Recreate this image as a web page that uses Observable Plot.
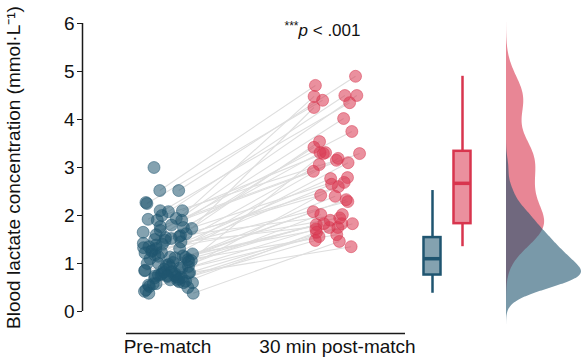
<!DOCTYPE html>
<html><head><meta charset="utf-8">
<script src="https://cdn.jsdelivr.net/npm/d3@7"></script>
<script src="https://cdn.jsdelivr.net/npm/@observablehq/plot@0.6"></script>
<style>body{margin:0;background:#fff;}</style>
</head><body><div id="chart"></div>
<script>
// ---------- data ----------
const categories = ["Pre-match", "30 min post-match"];
const preValues = [
  3.0,2.52,2.52,2.27,2.25,2.1,2.1,2.08,2.0,1.94,
  1.92,1.9,1.9,1.8,1.77,1.75,1.73,1.69,1.65,1.62,
  1.6,1.58,1.56,1.54,1.52,1.5,1.48,1.45,1.42,1.4,
  1.38,1.35,1.33,1.31,1.31,1.27,1.25,1.23,1.22,1.2,
  1.18,1.16,1.15,1.13,1.13,1.12,1.1,1.08,1.06,1.04,
  1.02,1.0,1.0,0.98,0.96,0.94,0.92,0.9,0.9,0.88,
  0.86,0.85,0.83,0.82,0.81,0.8,0.79,0.78,0.77,0.76,
  0.75,0.75,0.74,0.73,0.72,0.71,0.7,0.68,0.66,0.65,
  0.63,0.62,0.6,0.6,0.58,0.58,0.55,0.52,0.5,0.45,
  0.42,0.38,0.38
];
const postValues = [
  null,4.71,4.9,null,4.4,3.31,null,4.5,3.15,null,
  4.35,2.92,null,4.48,3.29,null,4.25,3.75,null,2.42,
  4.5,null,3.54,2.02,null,4.02,3.42,null,2.79,1.83,
  null,3.31,2.6,null,3.19,1.95,null,3.06,2.29,null,
  2.77,1.75,null,3.1,2.08,null,2.65,1.6,null,3.29,
  2.4,null,1.83,2.33,null,2.69,null,null,2.02,1.9,
  null,1.81,null,null,null,1.35,null,null,1.56,null,
  null,null,null,null,null,null,1.72,null,null,1.48,
  null,null,1.65,null,null,null,1.75,null,null,1.83,
  null,1.46,null
];
const yTicks = [0,1,2,3,4,5,6];
const yLabel = "Blood lactate concentration (mmol·L⁻¹)";
const pStars = "***";
const pItalic = "p";
const pRest = " < .001";

// ---------- layout / style ----------
const W = 584, H = 361;
const xCat = [167, 337];
const xBox = [432, 462];
const xDens = 506, densMax = 75;
const colors = ["#1f5570", "#d8354e"];
const font = "'Liberation Sans', Arial, sans-serif";

const rng = d3.randomLcg(11);
const jit = () => (rng() - 0.5) * 52;
const rows = preValues.map((v, i) => ({pre: v, post: postValues[i], xp: xCat[0] + jit(), xq: xCat[1] + jit()}));
const prePts = rows.map(r => ({x: r.xp, y: r.pre}));
const paired = rows.filter(r => r.post != null);
const postPts = paired.map(r => ({x: r.xq, y: r.post}));
const postList = paired.map(r => r.post);

function boxStats(vals, x) {
  const s = vals.slice().sort(d3.ascending);
  const q1 = d3.quantile(s, .25), med = d3.quantile(s, .5), q3 = d3.quantile(s, .75);
  const iqr = q3 - q1;
  const lo = d3.min(s.filter(v => v >= q1 - 1.5 * iqr));
  const hi = d3.max(s.filter(v => v <= q3 + 1.5 * iqr));
  return {x, q1, med, q3, lo, hi};
}
const boxes = [boxStats(preValues, xBox[0]), boxStats(postList, xBox[1])];

function kde(vals, bw) {
  return d3.range(-0.3, 6.22, 0.02).map(y => ({
    y, d: d3.mean(vals, v => Math.exp(-0.5 * ((y - v) / bw) ** 2)) / (bw * Math.sqrt(2 * Math.PI))
  }));
}
const densPre = kde(preValues, 0.2);
const densPost = kde(postList, 0.38);
const k = densMax / d3.max(densPre, d => d.d);

const marks = [
  Plot.ruleX([xCat[0]], {x: () => 82, y1: 0, y2: 6, stroke: "#1a1a1a", strokeWidth: 1.5}),
  Plot.axisY({ticks: yTicks, tickFormat: d3.format("d"), tickSize: 5, tickPadding: 3, fontSize: 19, label: yLabel,
    labelAnchor: "center", labelOffset: 76, labelArrow: "none", stroke: "#1a1a1a"}),
  Plot.ruleY([0], {x1: () => xCat[0] - 41, x2: () => xCat[1] + 68, dy: 22, stroke: "#1a1a1a", strokeWidth: 1.5}),
  Plot.axisX({ticks: xCat, tickFormat: d => categories[xCat.indexOf(d)], tickSize: 0, tickPadding: 28, fontSize: 19, label: null}),
  Plot.link(paired, {x1: "xp", y1: "pre", x2: "xq", y2: "post", stroke: "#dedede", strokeWidth: 1.1}),
  Plot.dot(prePts, {x: "x", y: "y", r: 6, fill: colors[0], fillOpacity: 0.55, stroke: colors[0], strokeOpacity: 0.5, strokeWidth: 1}),
  Plot.dot(postPts, {x: "x", y: "y", r: 6, fill: colors[1], fillOpacity: 0.55, stroke: colors[1], strokeOpacity: 0.5, strokeWidth: 1}),
  Plot.areaX(densPost, {y: "y", x1: () => xDens, x2: d => xDens + d.d * k, fill: colors[1], fillOpacity: 0.6, curve: "basis"}),
  Plot.areaX(densPre, {y: "y", x1: () => xDens, x2: d => xDens + d.d * k, fill: colors[0], fillOpacity: 0.6, curve: "basis"}),
  Plot.text([pStars + pItalic + pRest], {x: () => 322, y: () => 5.9, text: d => d, fontSize: 17, lineAnchor: "middle"})
];
boxes.forEach((b, i) => {
  const c = colors[i];
  marks.push(
    Plot.ruleX([b], {x: "x", y1: "lo", y2: "q1", stroke: c, strokeWidth: 2.5}),
    Plot.ruleX([b], {x: "x", y1: "q3", y2: "hi", stroke: c, strokeWidth: 2.5}),
    Plot.rect([b], {x1: d => d.x - 8.5, x2: d => d.x + 8.5, y1: "q1", y2: "q3", fill: c, fillOpacity: 0.55, stroke: c, strokeWidth: 2.5}),
    Plot.ruleY([b], {y: "med", x1: d => d.x - 8.5, x2: d => d.x + 8.5, stroke: c, strokeWidth: 3.5})
  );
});

const chart = Plot.plot({
  width: W, height: H,
  marginLeft: 82, marginRight: 0, marginTop: 23, marginBottom: 50,
  style: {fontFamily: font, fontSize: "19px", background: "white", color: "#111"},
  x: {domain: [82, W], axis: null},
  y: {domain: [0, 6], axis: null},
  marks
});
document.getElementById("chart").appendChild(chart);

// rich formatting for the p-value annotation
d3.select(chart).selectAll("text").filter(function() { return this.textContent === pStars + pItalic + pRest; })
  .each(function() {
    const t = d3.select(this);
    t.text(null);
    t.append("tspan").attr("font-size", 12).attr("dy", "-0.35em").text(pStars);
    t.append("tspan").attr("font-style", "italic").attr("dy", "0.35em").text(pItalic);
    t.append("tspan").text(pRest);
  });
</script>
</body></html>
